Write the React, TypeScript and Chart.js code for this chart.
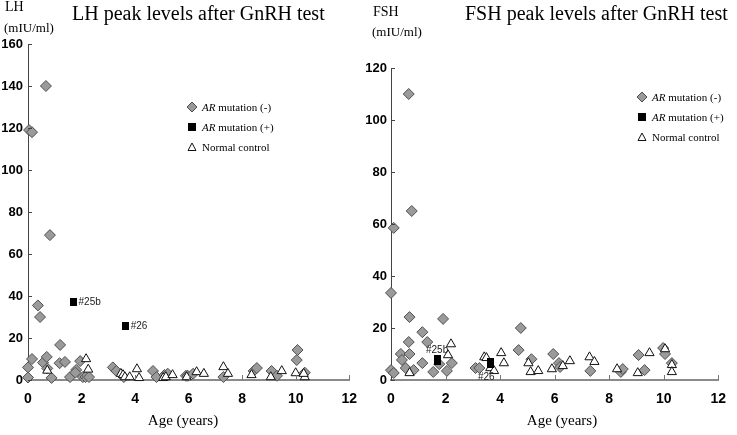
import React, { useEffect, useRef } from 'react';
import { Chart, registerables } from 'chart.js';
Chart.register(...registerables);

// ---------------- DATA ----------------
const xTickValues = [0, 2, 4, 6, 8, 10, 12];

// LH chart
const lhNegAge = [0.04, 0.15, 0.67, 0.82, 0.37, 0.45, 0, 0, 0.15, 0.56, 0.7, 0.72, 0.88, 1.2, 1.18, 1.38, 1.57, 1.8, 1.77, 1.95, 2.05, 2.15, 2.28, 3.17, 3.3, 3.58, 4.67, 4.8, 5.1, 5.22, 5.9, 5.97, 6.17, 7.3, 8.43, 8.55, 9.1, 9.3, 10.04, 10.07, 10.34];
const lhNegVal = [119, 118, 140, 69, 35.5, 30, 6, 1.2, 10, 8.3, 11, 5.5, 1, 16.7, 8, 8.6, 1.4, 4.8, 3.5, 9, 1.4, 1.4, 1.4, 6, 4.3, 1.4, 4.3, 1.4, 2.4, 3, 2, 2, 3, 1.4, 4.3, 5.7, 4.3, 2, 9.5, 14.3, 3.5];
const lhPosAge = [1.7, 3.65];
const lhPosVal = [37, 25.7];
const lhPosTags = ['#25b', '#26'];
const lhCtrlAge = [0.72, 2.17, 2.25, 3.47, 3.55, 3.62, 3.8, 4.07, 4.15, 5.05, 5.15, 5.4, 5.93, 6.3, 6.57, 7.3, 7.47, 8.35, 9.07, 9.48, 10.0, 10.34, 10.3];
const lhCtrlVal = [4.5, 10, 5, 3, 2.4, 1.4, 1.4, 5.2, 1, 1, 1.4, 2.4, 1.4, 3.8, 3, 6.2, 3, 2.4, 1.4, 4.3, 3.3, 1.4, 3];

// FSH chart
const fshNegAge = [0, 0.1, 0.65, 0.76, 0, 0.1, 0.36, 0.4, 0.68, 0.65, 0.68, 0.54, 0.83, 1.15, 1.15, 1.33, 1.55, 1.77, 1.91, 2.05, 2.23, 3.1, 3.24, 4.68, 4.76, 5.15, 5.95, 6.16, 6.2, 7.31, 8.43, 8.5, 9.08, 9.3, 9.98, 10.05, 10.3];
const fshNegVal = [33.5, 58.5, 110, 65, 3.8, 2.7, 10, 7.7, 24.2, 14.6, 10, 4.6, 3.8, 6.5, 18.4, 14.6, 3.1, 6.1, 23.5, 3.5, 6.5, 4.6, 4.6, 11.5, 20, 8, 10, 6.5, 5, 3.5, 3.1, 4.2, 9.6, 3.8, 12.3, 10, 6.5];
const fshPosAge = [1.69, 3.64];
const fshPosVal = [7.7, 6.5];
const fshPosTags = ['#25b', '#26'];
const fshCtrlAge = [0.68, 2.2, 2.09, 3.42, 3.5, 3.64, 3.78, 4.04, 4.14, 5.04, 5.12, 5.4, 5.9, 6.3, 6.56, 7.28, 7.46, 8.29, 9.05, 9.48, 10.05, 10.3, 10.3];
const fshCtrlVal = [2.7, 13.8, 9.6, 8.8, 8.5, 4.6, 3.5, 10.4, 6.5, 6.5, 3.1, 3.5, 4.2, 5.4, 7.3, 8.8, 7, 4.2, 2.7, 10.4, 11.9, 5.8, 3.1];

const seriesNames = ['AR mutation (-)', 'AR mutation (+)', 'Normal control'];

// ---------------- HELPERS ----------------
const TICK_FONT = "'Liberation Sans', Arial, sans-serif";
const SERIF = "'Liberation Serif', 'Times New Roman', serif";

function pts(a: number[], v: number[]) {
  return a.map((x, i) => ({ x, y: v[i] }));
}

function rectImage(w: number, h: number) {
  const c = document.createElement('canvas');
  c.width = w;
  c.height = h;
  const g = c.getContext('2d')!;
  g.fillStyle = '#000';
  g.fillRect(0, 0, w, h);
  return c;
}

const innerTicks = {
  id: 'innerTicks',
  afterDraw(chart: any) {
    const { ctx, chartArea } = chart;
    const x = chart.scales.x;
    const y = chart.scales.y;
    ctx.save();
    ctx.lineWidth = 1;
    ctx.strokeStyle = '#444';
    y.ticks.forEach((t: any) => {
      const py = Math.round(y.getPixelForValue(t.value)) + 0.5;
      ctx.beginPath();
      ctx.moveTo(chartArea.left, py);
      ctx.lineTo(chartArea.left + 4, py);
      ctx.stroke();
    });
    ctx.strokeStyle = '#777';
    x.ticks.forEach((t: any) => {
      if (t.value === 0) return;
      const px = Math.round(x.getPixelForValue(t.value)) + 0.5;
      ctx.beginPath();
      ctx.moveTo(px, chartArea.bottom);
      ctx.lineTo(px, chartArea.bottom - 5);
      ctx.stroke();
    });
    ctx.restore();
  },
};

const tagLabels = {
  id: 'tagLabels',
  afterDatasetsDraw(chart: any, _args: any, opts: any) {
    const { ctx } = chart;
    const meta = chart.getDatasetMeta(opts.datasetIndex);
    ctx.save();
    ctx.font = "10px 'Liberation Sans', Arial, sans-serif";
    ctx.fillStyle = '#222';
    ctx.textBaseline = 'middle';
    meta.data.forEach((el: any, i: number) => {
      const o = opts.offsets[i];
      ctx.textAlign = o.align;
      ctx.fillText(opts.tags[i], el.x + o.dx, el.y + o.dy);
    });
    ctx.restore();
  },
};

type Cfg = {
  neg: { x: number; y: number }[];
  pos: { x: number; y: number }[];
  ctrl: { x: number; y: number }[];
  tags: string[];
  yMax: number;
  yWidth: number;
  top: number;
  right: number;
  yPad: number;
  sqW: number;
  sqH: number;
  offsets: { dx: number; dy: number; align: string }[];
};

function buildChart(canvas: HTMLCanvasElement, c: Cfg) {
  return new Chart(canvas, {
    type: 'scatter',
    data: {
      datasets: [
        {
          label: seriesNames[0],
          data: c.neg,
          pointStyle: 'rectRot',
          pointRadius: 5.5,
          pointBackgroundColor: '#9a9a9a',
          pointBorderColor: '#505050',
          pointBorderWidth: 1,
          order: 3,
          clip: false,
        } as any,
        {
          label: seriesNames[1],
          data: c.pos,
          pointStyle: rectImage(c.sqW, c.sqH),
          pointRadius: 5,
          order: 1,
          clip: false,
        } as any,
        {
          label: seriesNames[2],
          data: c.ctrl,
          pointStyle: 'triangle',
          pointRadius: 5.3,
          pointBackgroundColor: '#ffffff',
          pointBorderColor: '#111',
          pointBorderWidth: 1,
          order: 2,
          clip: false,
        } as any,
      ],
    },
    options: {
      responsive: false,
      animation: false,
      layout: { padding: { left: 0, top: c.top, right: c.right, bottom: 0 } },
      plugins: {
        legend: { display: false },
        tooltip: { enabled: false },
        title: { display: false },
        tagLabels: { datasetIndex: 1, tags: c.tags, offsets: c.offsets },
      } as any,
      scales: {
        x: {
          type: 'linear',
          min: 0,
          max: 12,
          afterBuildTicks: (s: any) => {
            s.ticks = xTickValues.map((v) => ({ value: v }));
          },
          afterFit: (s: any) => {
            s.height = 55;
          },
          grid: { display: false, drawTicks: false },
          border: { display: true, color: '#8a8a8a', width: 2 },
          ticks: {
            autoSkip: false,
            maxRotation: 0,
            padding: 11,
            color: '#000',
            font: { family: TICK_FONT, size: 14, weight: 'bold' },
          },
        },
        y: {
          type: 'linear',
          min: 0,
          max: c.yMax,
          ticks: {
            stepSize: 20,
            padding: c.yPad,
            color: '#000',
            font: { family: TICK_FONT, size: 13, weight: 'bold' },
          },
          afterFit: (s: any) => {
            s.width = c.yWidth;
          },
          grid: { display: false, drawTicks: false },
          border: { display: true, color: '#444', width: 1 },
        },
      },
    } as any,
    plugins: [innerTicks, tagLabels],
  });
}

// ---------------- COMPONENTS ----------------
function Marker({ kind }: { kind: string }) {
  if (kind === 'diamond')
    return (
      <svg width="12" height="12" style={{ display: 'block' }}>
        <polygon points="6,1 11,6 6,11 1,6" fill="#9a9a9a" stroke="#505050" strokeWidth="1" />
      </svg>
    );
  if (kind === 'square')
    return (
      <svg width="12" height="12" style={{ display: 'block' }}>
        <rect x="2" y="2" width="8" height="8" fill="#000" />
      </svg>
    );
  return (
    <svg width="12" height="12" style={{ display: 'block' }}>
      <polygon points="6,2 10,9.5 2,9.5" fill="#fff" stroke="#111" strokeWidth="1" />
    </svg>
  );
}

function Legend({ left, top, gap }: { left: number; top: number; gap: number }) {
  const kinds = ['diamond', 'square', 'triangle'];
  return (
    <>
      {kinds.map((k, i) => (
        <div
          key={k}
          style={{
            position: 'absolute',
            left: left - 6,
            top: top + i * gap - 8,
            height: 16,
            display: 'flex',
            alignItems: 'center',
            fontFamily: SERIF,
            fontSize: 11,
            color: '#000',
            whiteSpace: 'nowrap',
          }}
        >
          <Marker kind={k} />
          <span style={{ marginLeft: 4 }}>
            {i < 2 ? (
              <>
                <i>AR</i>
                {seriesNames[i].slice(2)}
              </>
            ) : (
              seriesNames[i]
            )}
          </span>
        </div>
      ))}
    </>
  );
}

function Txt(p: { left: number; top: number; size: number; text: string; center?: boolean; width?: number }) {
  return (
    <div
      style={{
        position: 'absolute',
        left: p.left,
        top: p.top,
        width: p.width,
        textAlign: p.center ? 'center' : 'left',
        fontFamily: SERIF,
        fontSize: p.size,
        lineHeight: `${p.size + 2}px`,
        color: '#000',
        whiteSpace: 'nowrap',
      }}
    >
      {p.text}
    </div>
  );
}

export default function App() {
  const leftRef = useRef<HTMLCanvasElement>(null);
  const rightRef = useRef<HTMLCanvasElement>(null);

  useEffect(() => {
    const a = buildChart(leftRef.current!, {
      neg: pts(lhNegAge, lhNegVal),
      pos: pts(lhPosAge, lhPosVal),
      ctrl: pts(lhCtrlAge, lhCtrlVal),
      tags: lhPosTags,
      yMax: 160,
      yWidth: 28,
      top: 44,
      right: 18,
      yPad: 5,
      sqW: 7,
      sqH: 8,
      offsets: [
        { dx: 5, dy: 0, align: 'left' },
        { dx: 5, dy: 0, align: 'left' },
      ],
    });
    const b = buildChart(rightRef.current!, {
      neg: pts(fshNegAge, fshNegVal),
      pos: pts(fshPosAge, fshPosVal),
      ctrl: pts(fshCtrlAge, fshCtrlVal),
      tags: fshPosTags,
      yMax: 120,
      yWidth: 39,
      top: 68,
      right: 11,
      yPad: 4,
      sqW: 7,
      sqH: 10,
      offsets: [
        { dx: 0, dy: -10, align: 'center' },
        { dx: -4, dy: 14, align: 'center' },
      ],
    });
    return () => {
      a.destroy();
      b.destroy();
    };
  }, []);

  return (
    <div style={{ position: 'fixed', left: 0, top: 0, width: 737, height: 435, background: '#fff', overflow: 'hidden' }}>
      <canvas ref={leftRef} width={368} height={435} style={{ position: 'absolute', left: 0, top: 0, width: 368, height: 435 }} />
      <canvas ref={rightRef} width={385} height={435} style={{ position: 'absolute', left: 352, top: 0, width: 385, height: 435 }} />

      <Txt left={5} top={-1} size={14} text="LH" />
      <Txt left={4} top={20} size={13} text="(mIU/ml)" />
      <Txt left={72} top={2} size={20} text="LH peak levels after GnRH test" width={252} center />
      <Txt left={133} top={412} size={15} text="Age (years)" width={100} center />
      <Legend left={192} top={107} gap={20} />

      <Txt left={373} top={4} size={14} text="FSH" />
      <Txt left={372} top={24} size={13} text="(mIU/ml)" />
      <Txt left={465} top={2} size={20} text="FSH peak levels after GnRH test" width={252} center />
      <Txt left={512} top={412} size={15} text="Age (years)" width={100} center />
      <Legend left={642} top={97} gap={20} />
    </div>
  );
}
